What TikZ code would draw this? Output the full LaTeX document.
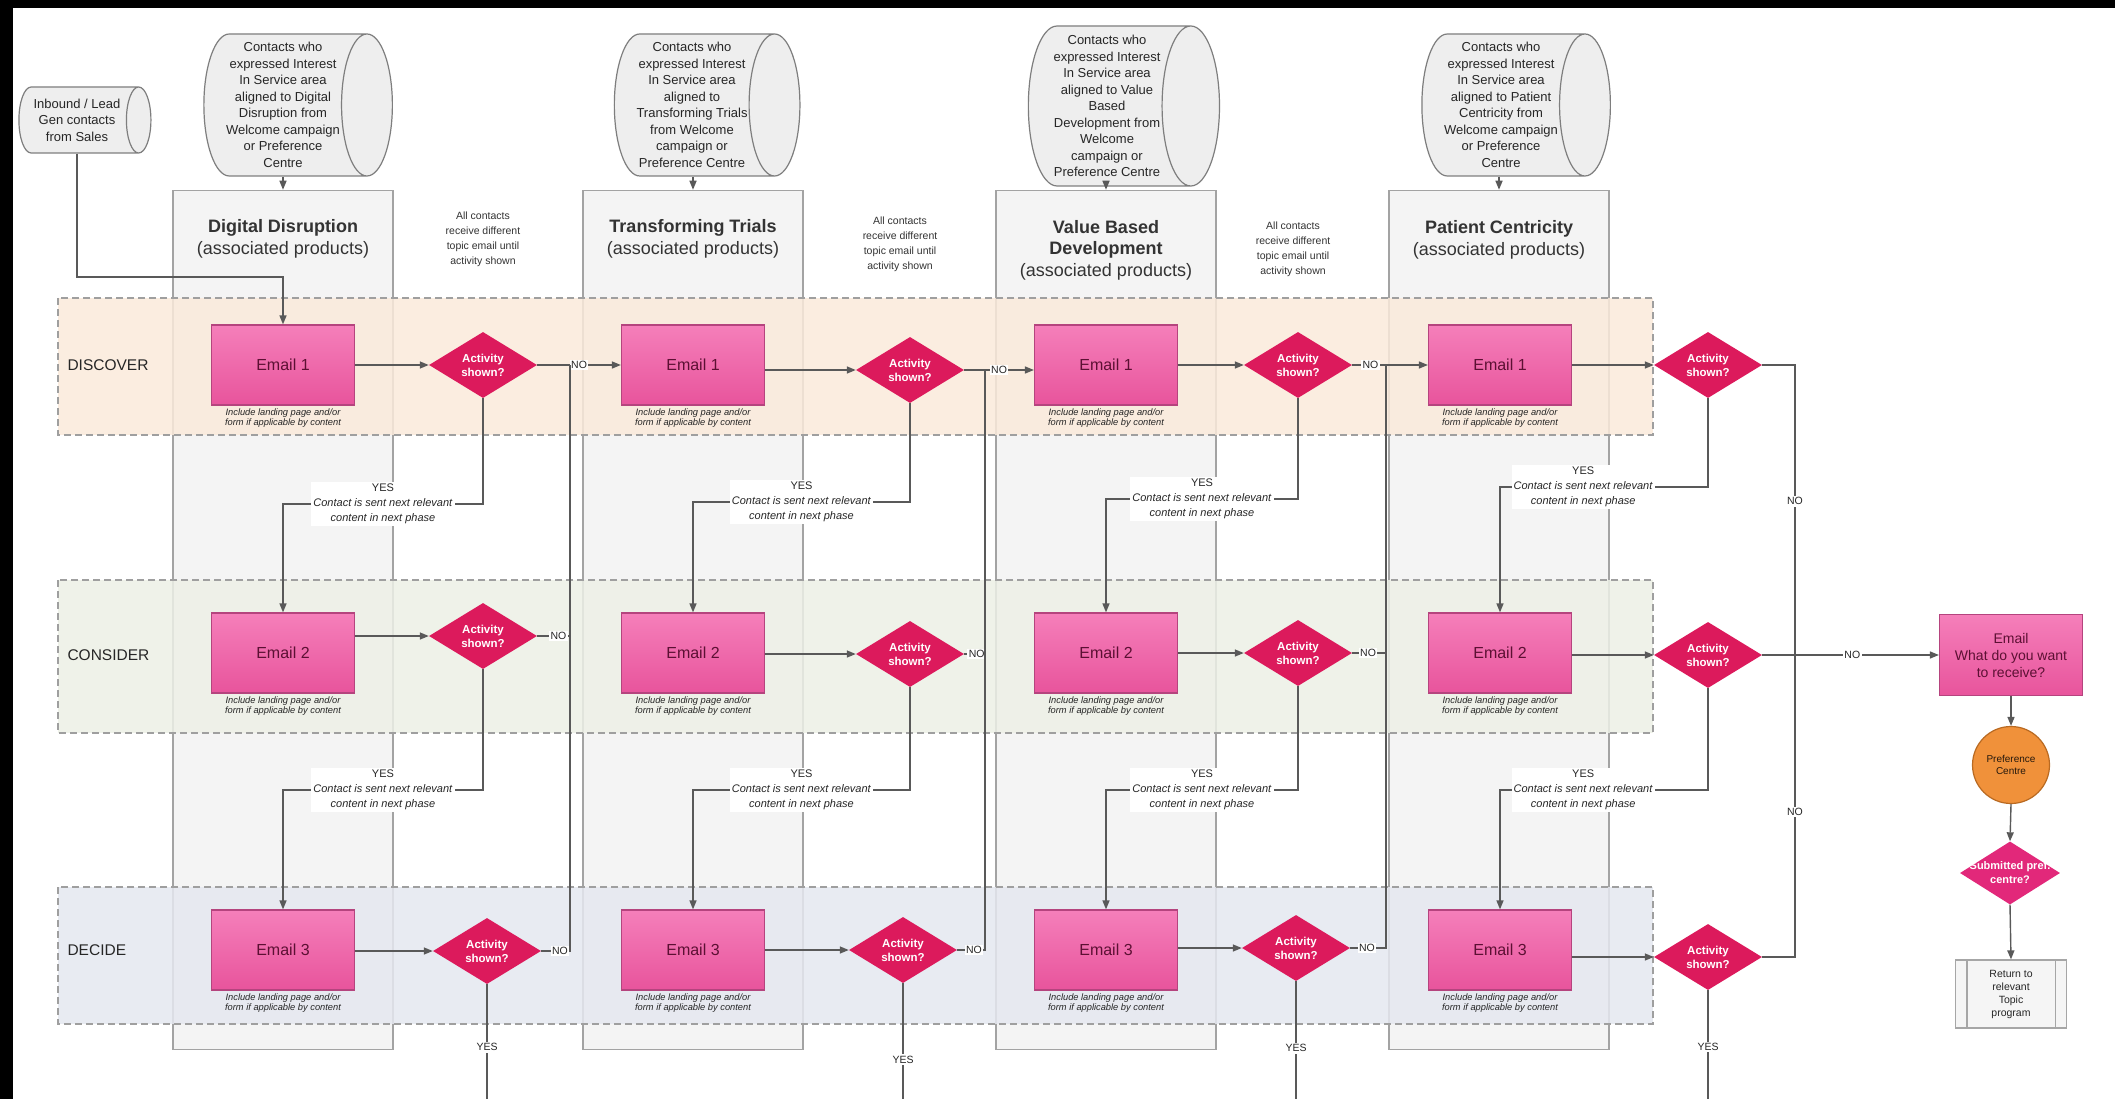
\documentclass[tikz,border=0pt]{standalone}
\usepackage{fontspec}
\setmainfont{Liberation Sans}
\usetikzlibrary{shapes.geometric,arrows.meta}
\definecolor{emailtop}{HTML}{F57FBA}
\definecolor{emailbot}{HTML}{E8549C}
\definecolor{emailedge}{HTML}{B5447E}
\definecolor{emailtext}{HTML}{5C1033}
\definecolor{actred}{HTML}{DC1A5C}
\definecolor{subred}{HTML}{E2287A}
\definecolor{discoverbg}{HTML}{FBEADB}
\definecolor{considerbg}{HTML}{EDF0E6}
\definecolor{decidebg}{HTML}{E5E8F0}
\definecolor{colfill}{HTML}{F4F4F4}
\definecolor{coledge}{HTML}{A3A3A3}
\definecolor{srcfill}{HTML}{EEEEEE}
\definecolor{srcedge}{HTML}{7E7E7E}
\definecolor{wire}{HTML}{595959}
\definecolor{prefor}{HTML}{F0913A}
\definecolor{prefedge}{HTML}{B96A22}

\begin{document}
\begin{tikzpicture}[x=1pt,y=-1pt,
  link/.style={draw=wire, line width=1.4pt},
  linkarr/.style={link, -{Triangle[length=9pt,width=7pt]}},
  lanebox/.style={draw=gray!75, line width=1.2pt, dash pattern=on 7pt off 4pt, fill opacity=0.85},
  colbox/.style={draw=coledge, fill=colfill, line width=1.5pt, minimum width=220pt, minimum height=859pt},
  srccyl/.style={cylinder, shape border rotate=0, shape aspect=0.4, draw=srcedge, fill=srcfill, line width=1.2pt, align=center, inner sep=1pt, text=black!85, font=\fontsize{13}{16.5}\selectfont, minimum height=172pt, minimum width=142pt},
  emailbox/.style={draw=emailedge, line width=1.2pt, top color=emailtop, bottom color=emailbot, minimum width=143pt, minimum height=80pt, align=center, text=emailtext, font=\fontsize{16}{19}\selectfont},
  actdia/.style={diamond, fill=actred, minimum width=108pt, minimum height=66pt, inner sep=0pt, text=white, align=center, font=\bfseries\fontsize{11.5}{14}\selectfont},
  hinttxt/.style={align=center, text=black!85, font=\itshape\fontsize{9.3}{10.5}\selectfont},
  notetxt/.style={align=center, text=black!80, font=\fontsize{10.5}{15}\selectfont},
  coltitle/.style={align=center, text=black!80, font=\fontsize{18}{21.5}\selectfont},
  phasetxt/.style={anchor=west, text=black!85, font=\fontsize{15.5}{18}\selectfont},
  nolbl/.style={fill=white, inner sep=1.5pt, text=black!85, font=\fontsize{10.5}{12}\selectfont},
  yeslbl/.style={fill=white, inner sep=2pt, align=center, text=black!85, font=\fontsize{11}{15}\selectfont}]
\useasboundingbox (0,0) rectangle (2115,1099);
\fill[white] (0,0) rectangle (2115,1099);
\fill[black] (0,0) rectangle (2115,8);
\fill[black] (0,0) rectangle (13,1099);

\node[colbox] (col1) at (283,620) {};
\node[colbox] (col2) at (693,620) {};
\node[colbox] (col3) at (1106,620) {};
\node[colbox] (col4) at (1499,620) {};

\draw[lanebox, fill=discoverbg] (58,298) rectangle (1653,435);
\draw[lanebox, fill=considerbg] (58,580) rectangle (1653,733);
\draw[lanebox, fill=decidebg] (58,887) rectangle (1653,1024);
\node[phasetxt] (ph1) at (64,365) {DISCOVER};
\node[phasetxt] (ph2) at (64,655) {CONSIDER};
\node[phasetxt] (ph3) at (64,950) {DECIDE};

\node[srccyl, minimum height=132pt, minimum width=66pt, shape aspect=0.55] (inb) at (77,120) {Inbound / Lead\\Gen contacts\\from Sales};
\node[srccyl] (src1) at (283,105) {Contacts who\\expressed Interest\\In Service area\\aligned to Digital\\Disruption from\\Welcome campaign\\or Preference\\Centre};
\node[srccyl] (src2) at (692,105) {Contacts who\\expressed Interest\\In Service area\\aligned to\\Transforming Trials\\from Welcome\\campaign or\\Preference Centre};
\node[srccyl, minimum width=160pt] (src3) at (1107,106) {Contacts who\\expressed Interest\\In Service area\\aligned to Value\\Based\\Development from\\Welcome\\campaign or\\Preference Centre};
\node[srccyl] (src4) at (1501,105) {Contacts who\\expressed Interest\\In Service area\\aligned to Patient\\Centricity from\\Welcome campaign\\or Preference\\Centre};

\node[coltitle] (t1) at (283,239) {\textbf{Digital Disruption}\\(associated products)};
\node[coltitle] (t2) at (693,239) {\textbf{Transforming Trials}\\(associated products)};
\node[coltitle] (t3) at (1106,250) {\textbf{Value Based}\\\textbf{Development}\\(associated products)};
\node[coltitle] (t4) at (1499,240) {\textbf{Patient Centricity}\\(associated products)};

\node[notetxt] (n1) at (483,239) {All contacts\\receive different\\topic email until\\activity shown};
\node[notetxt] (n2) at (900,244) {All contacts\\receive different\\topic email until\\activity shown};
\node[notetxt] (n3) at (1293,249) {All contacts\\receive different\\topic email until\\activity shown};

\node[emailbox] (e11) at (283,365) {Email 1};
\node[emailbox] (e12) at (283,653) {Email 2};
\node[emailbox] (e13) at (283,950) {Email 3};
\node[emailbox] (e21) at (693,365) {Email 1};
\node[emailbox] (e22) at (693,653) {Email 2};
\node[emailbox] (e23) at (693,950) {Email 3};
\node[emailbox] (e31) at (1106,365) {Email 1};
\node[emailbox] (e32) at (1106,653) {Email 2};
\node[emailbox] (e33) at (1106,950) {Email 3};
\node[emailbox] (e41) at (1500,365) {Email 1};
\node[emailbox] (e42) at (1500,653) {Email 2};
\node[emailbox] (e43) at (1500,950) {Email 3};

\node[hinttxt] (h11) at (283,418) {Include landing page and/or\\form if applicable by content};
\node[hinttxt] (h12) at (283,706) {Include landing page and/or\\form if applicable by content};
\node[hinttxt] (h13) at (283,1003) {Include landing page and/or\\form if applicable by content};
\node[hinttxt] (h21) at (693,418) {Include landing page and/or\\form if applicable by content};
\node[hinttxt] (h22) at (693,706) {Include landing page and/or\\form if applicable by content};
\node[hinttxt] (h23) at (693,1003) {Include landing page and/or\\form if applicable by content};
\node[hinttxt] (h31) at (1106,418) {Include landing page and/or\\form if applicable by content};
\node[hinttxt] (h32) at (1106,706) {Include landing page and/or\\form if applicable by content};
\node[hinttxt] (h33) at (1106,1003) {Include landing page and/or\\form if applicable by content};
\node[hinttxt] (h41) at (1500,418) {Include landing page and/or\\form if applicable by content};
\node[hinttxt] (h42) at (1500,706) {Include landing page and/or\\form if applicable by content};
\node[hinttxt] (h43) at (1500,1003) {Include landing page and/or\\form if applicable by content};

\node[actdia] (d11) at (483,365) {Activity\\shown?};
\node[actdia] (d12) at (483,636) {Activity\\shown?};
\node[actdia] (d13) at (487,951) {Activity\\shown?};
\node[actdia] (d21) at (910,370) {Activity\\shown?};
\node[actdia] (d22) at (910,654) {Activity\\shown?};
\node[actdia] (d23) at (903,950) {Activity\\shown?};
\node[actdia] (d31) at (1298,365) {Activity\\shown?};
\node[actdia] (d32) at (1298,653) {Activity\\shown?};
\node[actdia] (d33) at (1296,948) {Activity\\shown?};
\node[actdia] (d41) at (1708,365) {Activity\\shown?};
\node[actdia] (d42) at (1708,655) {Activity\\shown?};
\node[actdia] (d43) at (1708,957) {Activity\\shown?};

\node[emailbox, minimum height=81pt, font=\fontsize{14}{17}\selectfont] (fin) at (2011,655) {Email\\What do you want\\to receive?};
\node[circle, fill=prefor, draw=prefedge, line width=1.2pt, minimum size=77pt, inner sep=0pt, align=center, text=black!80!brown, font=\fontsize{10}{12.5}\selectfont] (pref) at (2011,765) {Preference\\Centre};
\node[actdia, fill=subred, minimum width=100pt, minimum height=63pt, label={[align=center, text=white, font=\bfseries\fontsize{11}{14}\selectfont]center:Submitted pref.\\centre?}] (sub) at (2010,873) {};
\node[draw=gray!70, fill=gray!8, line width=1.2pt, minimum width=111pt, minimum height=68pt, align=center, text=black!85, font=\fontsize{10.5}{13}\selectfont] (ret) at (2011,994) {Return to\\relevant\\Topic\\program};
\draw[gray!70, line width=1.2pt] ([xshift=12pt]ret.north west) -- ([xshift=12pt]ret.south west);
\draw[gray!70, line width=1.2pt] ([xshift=-12pt]ret.north east) -- ([xshift=-12pt]ret.south east);

\coordinate (j1) at (283,277);
\coordinate (v1) at (570,0);
\coordinate (v2) at (985,0);
\coordinate (v3) at (1386,0);
\coordinate (v4) at (1795,0);
\coordinate (ya1) at (0,504);
\coordinate (ya2) at (0,502);
\coordinate (ya3) at (0,499);
\coordinate (ya4) at (0,487);
\coordinate (yb) at (0,790);
\coordinate (b1) at (487,1099);
\coordinate (b2) at (903,1099);
\coordinate (b3) at (1296,1099);
\coordinate (b4) at (1708,1099);

\draw[linkarr] (inb.south) |- (j1) -- (e11.north);
\draw[linkarr] (src1.south -| col1.north) -- (col1.north);
\draw[linkarr] (src2.south -| col2.north) -- (col2.north);
\draw[linkarr] (src3.south -| col3.north) -- (col3.north);
\draw[linkarr] (src4.south -| col4.north) -- (col4.north);

\draw[linkarr] (e11.east |- d11) -- (d11.west);
\draw[linkarr] (e12.east |- d12) -- (d12.west);
\draw[linkarr] (e13.east |- d13) -- (d13.west);
\draw[linkarr] (e21.east |- d21) -- (d21.west);
\draw[linkarr] (e22.east |- d22) -- (d22.west);
\draw[linkarr] (e23.east |- d23) -- (d23.west);
\draw[linkarr] (e31.east |- d31) -- (d31.west);
\draw[linkarr] (e32.east |- d32) -- (d32.west);
\draw[linkarr] (e33.east |- d33) -- (d33.west);
\draw[linkarr] (e41.east |- d41) -- (d41.west);
\draw[linkarr] (e42.east |- d42) -- (d42.west);
\draw[linkarr] (e43.east |- d43) -- (d43.west);

\draw[linkarr] (d11.south) -- (d11.south |- ya1) -- node[yeslbl]{YES\\\textit{Contact is sent next relevant}\\\textit{content in next phase}} (e12 |- ya1) -- (e12.north);
\draw[linkarr] (d12.south) -- (d12.south |- yb) -- node[yeslbl]{YES\\\textit{Contact is sent next relevant}\\\textit{content in next phase}} (e13 |- yb) -- (e13.north);
\draw[linkarr] (d21.south) -- (d21.south |- ya2) -- node[yeslbl]{YES\\\textit{Contact is sent next relevant}\\\textit{content in next phase}} (e22 |- ya2) -- (e22.north);
\draw[linkarr] (d22.south) -- (d22.south |- yb) -- node[yeslbl]{YES\\\textit{Contact is sent next relevant}\\\textit{content in next phase}} (e23 |- yb) -- (e23.north);
\draw[linkarr] (d31.south) -- (d31.south |- ya3) -- node[yeslbl]{YES\\\textit{Contact is sent next relevant}\\\textit{content in next phase}} (e32 |- ya3) -- (e32.north);
\draw[linkarr] (d32.south) -- (d32.south |- yb) -- node[yeslbl]{YES\\\textit{Contact is sent next relevant}\\\textit{content in next phase}} (e33 |- yb) -- (e33.north);
\draw[linkarr] (d41.south) -- (d41.south |- ya4) -- node[yeslbl, pos=0.6]{YES\\\textit{Contact is sent next relevant}\\\textit{content in next phase}} (e42 |- ya4) -- (e42.north);
\draw[linkarr] (d42.south) -- (d42.south |- yb) -- node[yeslbl, pos=0.6]{YES\\\textit{Contact is sent next relevant}\\\textit{content in next phase}} (e43 |- yb) -- (e43.north);

\draw[link] (d13.south) -- node[nolbl, pos=0.55]{YES} (b1);
\draw[link] (d23.south) -- node[nolbl, pos=0.66]{YES} (b2);
\draw[link] (d33.south) -- node[nolbl, pos=0.57]{YES} (b3);
\draw[link] (d43.south) -- node[nolbl, pos=0.52]{YES} (b4);

\draw[linkarr] (d11.east) -- node[nolbl]{NO} (d11 -| e21.west);
\draw[link] (d12.east) -- node[nolbl, pos=0.65]{NO} (d12 -| v1);
\draw[link] (d13.east) -- node[nolbl, pos=0.65]{NO} (d13 -| v1) -- (d11 -| v1);
\draw[linkarr] (d21.east) -- node[nolbl]{NO} (d21 -| e31.west);
\draw[link] (d22.east) -- node[nolbl, pos=0.6]{NO} (d22 -| v2);
\draw[link] (d23.east) -- node[nolbl, pos=0.6]{NO} (d23 -| v2) -- (d21 -| v2);
\draw[linkarr] (d31.east) -- node[nolbl, pos=0.24]{NO} (d31 -| e41.west);
\draw[link] (d32.east) -- node[nolbl, pos=0.47]{NO} (d32 -| v3);
\draw[link] (d33.east) -- node[nolbl, pos=0.47]{NO} (d33 -| v3) -- (d31 -| v3);
\draw[linkarr] (d42.east) -- node[nolbl, pos=0.51]{NO} (d42 -| fin.west);
\draw[link] (d41.east) -- (d41 -| v4) -- node[nolbl, pos=0.47]{NO} (d42 -| v4);
\draw[link] (d43.east) -- (d43 -| v4) -- node[nolbl, pos=0.48]{NO} (d42 -| v4);

\draw[linkarr] (fin.south) -- (pref.north);
\draw[linkarr] (pref.south) -- (sub.north);
\draw[linkarr] (sub.south) -- (ret.north);
\end{tikzpicture}
\end{document}
